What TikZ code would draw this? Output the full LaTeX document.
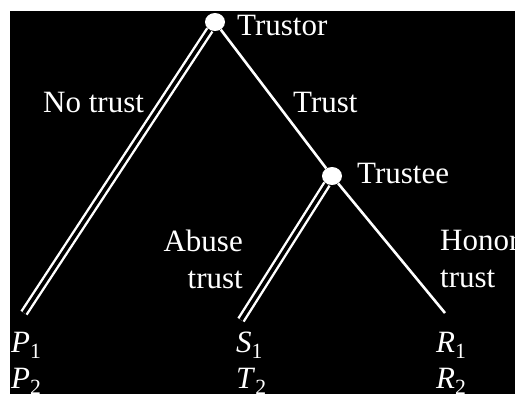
\documentclass[tikz,border=0pt]{standalone}
\usepackage{fontspec}
\setmainfont{Liberation Serif}
\usetikzlibrary{shapes.geometric}
\definecolor{EdgeClr}{rgb}{1,1,1}

\newcommand{\payoff}[2]{\textit{#1}\textsubscript{#2}}

\begin{document}
\begin{tikzpicture}[x=1pt,y=-1pt,
  dot/.style={ellipse,fill=EdgeClr,inner sep=0pt,minimum width=20pt,minimum height=18pt},
  move/.style={draw=EdgeClr,line width=2.6pt},
  best/.style={draw=EdgeClr,line width=2.4pt,double=black,double distance=3.6pt},
  txt/.style={text=EdgeClr,inner sep=0pt,font=\fontsize{31}{37}\selectfont},
  pay/.style={txt,align=left,anchor=north west,font=\fontsize{31}{36}\selectfont}]
\useasboundingbox (0,0) rectangle (515,394);
\fill[black] (10,11) rectangle (515,394);

\node[dot] (trustor) at (215,22) {};
\node[dot] (trustee) at (332,176) {};

\coordinate (pend) at (24,313);
\coordinate (send) at (241,320);
\coordinate (rend) at (445,313);

\draw[best] (trustor) -- (pend);
\draw[move] (trustor) -- (trustee);
\draw[best] (trustee) -- (send);
\draw[move] (trustee) -- (rend);

\node[txt,anchor=base west] (lbltrustor) at (237,35) {Trustor};
\node[txt,anchor=base west] (lbltrustee) at (357,183) {Trustee};
\node[txt,anchor=base west] (lblnotrust) at (43,112) {No trust};
\node[txt,anchor=base west] (lbltrust) at (293,112) {Trust};
\node[txt,align=right,anchor=north east] (lblabuse) at (243,230) {Abuse\\trust};
\node[txt,align=left,anchor=north west] (lblhonor) at (440,230) {Honor\\trust};

\node[pay] (payp) at (11,332) {\payoff{P}{1}\\\payoff{P}{2}};
\node[pay] (pays) at (236,332) {\payoff{S}{1}\\\payoff{T}{2}};
\node[pay] (payr) at (436,332) {\payoff{R}{1}\\\payoff{R}{2}};

\end{tikzpicture}
\end{document}
